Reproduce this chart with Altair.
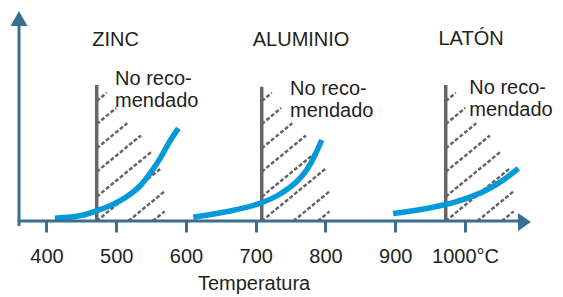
import altair as alt
import pandas as pd
import numpy as np

# ---------------- data ----------------
zinc_t = [412, 453, 472, 493.5, 515, 534, 548.5, 563, 575, 589]
zinc_v = [2.7, 6, 10.3, 16, 24.3, 35, 47.7, 62.7, 77.7, 92.7]
alu_t = [610.5, 646, 670, 706, 732.5, 756, 773, 785, 794.6]
alu_v = [3.7, 7.7, 11, 17.7, 26, 37.7, 51, 66, 81]
laton_t = [897, 926, 969, 1002.5, 1031, 1055, 1076.5]
laton_v = [7.5, 10.3, 16, 22.7, 31, 41, 52.7]

materials = ["ZINC", "ALUMINIO", "LATÓN"]
limit_t = [472, 708.6, 972.4]        # "no recomendado" threshold
limit_top = [136, 134.3, 136]
title_t = [499, 765, 1008.7]
title_v = [181, 181, 182.5]
note_t = [498.3, 749.2, 1006.2]
note_v1 = [142, 132.5, 133]
note_v2 = [120, 110.5, 111]
note_line1 = "No reco-"
note_line2 = "mendado"

tick_values = [400, 500, 600, 700, 800, 900, 1000]
x_title = "Temperatura"
x_title_t, x_title_v = 697.6, -63

# ---------------- layout / style ----------------
X_MIN, X_MAX = 360.6, 1093.2
Y_MIN, Y_MAX = 0, 210
W, H = 511, 210
PX_PER_DEG = W / (X_MAX - X_MIN)
AX = "#3b6f90"
GRAY = "#666666"
BLUE = "#0099da"
TXT = "#231f20"
FONT = "Liberation Sans"

# hatch pattern (decoration), in pixel units relative to the threshold line
hatch_slope = 0.82
hatch_offsets = [120, 97, 72.7, 49.3, 24.3, 0, -26, -46]
bound_y = [0, 34, 56, 70.3, 85, 97.7, 111.7, 127, 140]
bound_dx = [68, 68, 64, 55, 45, 30.6, 20.6, 11, 4]

hatch_rows = []
for m, x0 in zip(materials, limit_t):
    for s in hatch_offsets:
        d0 = max(0.0, -s / hatch_slope)
        d = d0
        while d + 0.25 <= np.interp(s + hatch_slope * (d + 0.25), bound_y, bound_dx):
            d += 0.25
        hatch_rows.append({
            "m": m,
            "x": x0 + d0 / PX_PER_DEG, "y": s + hatch_slope * d0,
            "x2": x0 + d / PX_PER_DEG, "y2": s + hatch_slope * d,
        })
hatch_df = pd.DataFrame(hatch_rows)

curve_df = pd.concat([
    pd.DataFrame({"m": "ZINC", "t": zinc_t, "v": zinc_v}),
    pd.DataFrame({"m": "ALUMINIO", "t": alu_t, "v": alu_v}),
    pd.DataFrame({"m": "LATÓN", "t": laton_t, "v": laton_v}),
])
limit_df = pd.DataFrame({"m": materials, "t": limit_t, "v0": 0, "v1": limit_top})
title_df = pd.DataFrame({"label": materials, "t": title_t, "v": title_v})
note_df = pd.DataFrame({
    "label": [note_line1] * 3 + [note_line2] * 3,
    "t": note_t + note_t,
    "v": note_v1 + note_v2,
})
xtitle_df = pd.DataFrame({"label": [x_title], "t": [x_title_t], "v": [x_title_v]})
xline_df = pd.DataFrame({"t": [358.5], "t2": [1076], "v": [0]})
yline_df = pd.DataFrame({"t": [X_MIN], "v": [-5], "v2": [195]})
yarrow_df = pd.DataFrame({"t": [X_MIN], "v": [202.5]})
xarrow_df = pd.DataFrame({"t": [1085.3], "v": [-1]})

xscale = alt.Scale(domain=[X_MIN, X_MAX], nice=False, zero=False)
yscale = alt.Scale(domain=[Y_MIN, Y_MAX], nice=False, zero=False)
xaxis = alt.Axis(
    values=tick_values, domain=False, grid=False, ticks=True, tickSize=11,
    tickWidth=3, tickColor=AX, labelFont=FONT, labelFontSize=20,
    labelColor=TXT, labelPadding=14, labelFlush=False, labelOverlap=False,
    labelExpr="datum.value == 1000 ? '1000°C' : datum.label", title="",
)


def X(f):
    return alt.X(f, type="quantitative", scale=xscale, axis=xaxis)


def Y(f):
    return alt.Y(f, type="quantitative", scale=yscale, axis=None)


hatch = alt.Chart(hatch_df).mark_rule(
    color=GRAY, strokeWidth=2.5, strokeDash=[4, 2]
).encode(x=X("x"), y=Y("y"), x2="x2", y2="y2")

limits = alt.Chart(limit_df).mark_rule(color=GRAY, strokeWidth=3.5).encode(
    x=X("t"), y=Y("v0"), y2="v1"
)

curves = alt.Chart(curve_df).mark_line(
    color=BLUE, strokeWidth=5.5, interpolate="monotone"
).encode(x=X("t"), y=Y("v"), detail="m:N")

xline = alt.Chart(xline_df).mark_rule(color=AX, strokeWidth=3).encode(
    x=X("t"), x2="t2", y=Y("v")
)
yline = alt.Chart(yline_df).mark_rule(color=AX, strokeWidth=3).encode(
    x=X("t"), y=Y("v"), y2="v2"
)
yarrow = alt.Chart(yarrow_df).mark_point(
    shape="M-1,0.88L0,-0.88L1,0.88Z", size=289, filled=True, color=AX,
    opacity=1, strokeWidth=0
).encode(x=X("t"), y=Y("v"))
xarrow = alt.Chart(xarrow_df).mark_point(
    shape="M-0.72,-1L0.72,0L-0.72,1Z", size=324, filled=True, color=AX,
    opacity=1, strokeWidth=0
).encode(x=X("t"), y=Y("v"))

titles = alt.Chart(title_df).mark_text(
    font=FONT, fontSize=20, color=TXT, align="center", baseline="middle"
).encode(x=X("t"), y=Y("v"), text="label:N")
notes = alt.Chart(note_df).mark_text(
    font=FONT, fontSize=20, color=TXT, align="left", baseline="middle"
).encode(x=X("t"), y=Y("v"), text="label:N")
xtitle = alt.Chart(xtitle_df).mark_text(
    font=FONT, fontSize=20, color=TXT, align="center", baseline="middle"
).encode(x=X("t"), y=Y("v"), text="label:N")

chart = alt.layer(
    hatch, limits, curves, xline, yline, yarrow, xarrow, titles, notes, xtitle
).properties(
    width=W, height=H,
    autosize=alt.AutoSizeParams(type="none"),
    padding={"left": 11, "top": 3, "right": 25, "bottom": 76},
    background="white",
).configure_view(strokeWidth=0)

chart.save("out.html", embed_options={"renderer": "svg", "actions": False})
